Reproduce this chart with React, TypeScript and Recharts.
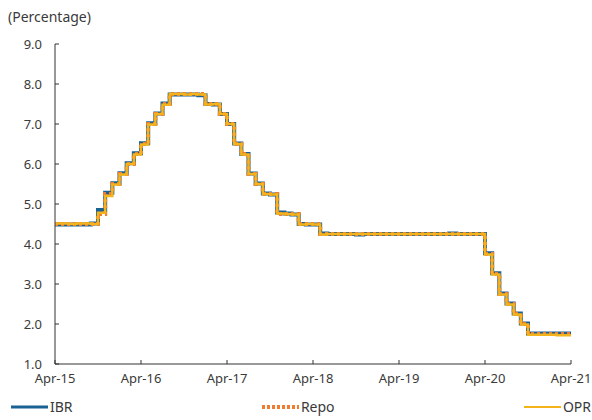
import { LineChart, Line, XAxis, YAxis } from "recharts";

const MONTH_NAMES = ["Jan", "Feb", "Mar", "Apr", "May", "Jun", "Jul", "Aug", "Sep", "Oct", "Nov", "Dec"];

// monthly, Apr-15 .. Apr-21
const months: string[] = [];
for (let i = 0; i < 73; i++) {
  const m = (3 + i) % 12;
  const y = 15 + Math.floor((3 + i) / 12);
  months.push(`${MONTH_NAMES[m]}-${y}`);
}

const xTicks = ["Apr-15", "Apr-16", "Apr-17", "Apr-18", "Apr-19", "Apr-20", "Apr-21"];
const yTicks = [1, 2, 3, 4, 5, 6, 7, 8, 9];

const repo = [
  4.5, 4.5, 4.5, 4.5, 4.5, 4.5, 4.75, 5.25, 5.5, 5.75, 6.0, 6.25, 6.5, 7.0, 7.25, 7.5,
  7.75, 7.75, 7.75, 7.75, 7.75, 7.5, 7.5, 7.25, 7.0, 6.5, 6.25, 5.75, 5.5, 5.25, 5.25,
  4.75, 4.75, 4.75, 4.5, 4.5, 4.5,
  4.25, 4.25, 4.25, 4.25, 4.25, 4.25, 4.25, 4.25, 4.25, 4.25, 4.25, 4.25, 4.25, 4.25,
  4.25, 4.25, 4.25, 4.25, 4.25, 4.25, 4.25, 4.25, 4.25,
  3.75, 3.25, 2.75, 2.5, 2.25, 2.0, 1.75, 1.75, 1.75, 1.75, 1.75, 1.75, 1.75,
];

const ibr = [
  4.49, 4.49, 4.49, 4.49, 4.49, 4.51, 4.85, 5.28, 5.52, 5.77, 6.02, 6.27, 6.52, 7.02, 7.26, 7.51,
  7.74, 7.74, 7.74, 7.74, 7.72, 7.5, 7.49, 7.25, 7.0, 6.51, 6.25, 5.76, 5.51, 5.26, 5.24,
  4.79, 4.76, 4.74, 4.5, 4.49, 4.49,
  4.26, 4.25, 4.25, 4.25, 4.25, 4.24, 4.25, 4.25, 4.25, 4.25, 4.25, 4.25, 4.25, 4.25,
  4.25, 4.25, 4.25, 4.25, 4.26, 4.25, 4.25, 4.25, 4.25,
  3.77, 3.27, 2.76, 2.51, 2.26, 2.01, 1.76, 1.76, 1.76, 1.76, 1.76, 1.76, 1.76,
];

const opr = [
  4.51, 4.51, 4.5, 4.51, 4.51, 4.5, 4.78, 5.2, 5.49, 5.74, 6.0, 6.24, 6.49, 6.99, 7.25, 7.48,
  7.75, 7.75, 7.74, 7.75, 7.74, 7.49, 7.5, 7.25, 7.0, 6.5, 6.24, 5.75, 5.5, 5.25, 5.24,
  4.76, 4.75, 4.74, 4.49, 4.5, 4.49,
  4.24, 4.25, 4.25, 4.25, 4.25, 4.25, 4.25, 4.25, 4.25, 4.25, 4.25, 4.25, 4.25, 4.25,
  4.25, 4.25, 4.25, 4.25, 4.25, 4.25, 4.25, 4.25, 4.25,
  3.74, 3.24, 2.74, 2.49, 2.24, 1.99, 1.73, 1.73, 1.73, 1.73, 1.72, 1.72, 1.72,
];

const data = months.map((m, i) => ({ m, ibr: ibr[i], repo: repo[i], opr: opr[i] }));

const BLUE = "#1b6294";
const ORANGE = "#ee7d31";
const YELLOW = "#f4b31a";
const TEXT = "#3a3a3a";
const FONT = "'Noto Sans', sans-serif";

const tickStyle = { fontSize: 13, fill: TEXT, fontFamily: FONT };

function LegendItem({ label, color, dashed, thick }: { label: string; color: string; dashed?: boolean; thick: number }) {
  return (
    <div style={{ display: "flex", alignItems: "center" }}>
      <svg width={37} height={8}>
        <line
          x1={0}
          y1={4}
          x2={37}
          y2={4}
          stroke={color}
          strokeWidth={thick}
          strokeDasharray={dashed ? "3 2" : undefined}
        />
      </svg>
      <span style={{ marginLeft: 2 }}>{label}</span>
    </div>
  );
}

export default function App() {
  return (
    <div
      style={{
        position: "absolute",
        left: 0,
        top: 0,
        width: 592,
        height: 420,
        background: "#fff",
        fontFamily: FONT,
        color: TEXT,
      }}
    >
      <div style={{ position: "absolute", left: 8, top: 7, fontSize: 14 }}>(Percentage)</div>
      <LineChart width={592} height={420} data={data} margin={{ top: 44, right: 21, bottom: 26, left: 0 }}>
        <XAxis
          dataKey="m"
          ticks={xTicks}
          interval={0}
          height={30}
          tick={tickStyle}
          tickSize={-4}
          tickMargin={14}
          axisLine={{ stroke: "#333" }}
          tickLine={{ stroke: "#333" }}
        />
        <YAxis
          type="number"
          domain={[1, 9]}
          ticks={yTicks}
          width={55}
          tick={tickStyle}
          tickFormatter={(v) => Number(v).toFixed(1)}
          tickSize={-4}
          tickMargin={17}
          axisLine={{ stroke: "#333" }}
          tickLine={{ stroke: "#333" }}
        />
        <Line type="stepAfter" dataKey="ibr" stroke={BLUE} strokeWidth={4} dot={false} isAnimationActive={false} />
        <Line
          type="stepAfter"
          dataKey="repo"
          stroke={ORANGE}
          strokeWidth={4}
          strokeDasharray="3 3"
          dot={false}
          isAnimationActive={false}
        />
        <Line type="stepAfter" dataKey="opr" stroke={YELLOW} strokeWidth={2.5} dot={false} isAnimationActive={false} />
      </LineChart>
      <div
        style={{
          position: "absolute",
          left: 11,
          width: 580,
          top: 397,
          display: "flex",
          justifyContent: "space-between",
          fontSize: 14,
        }}
      >
        <LegendItem label="IBR" color={BLUE} thick={3} />
        <LegendItem label="Repo" color={ORANGE} dashed thick={4} />
        <LegendItem label="OPR" color={YELLOW} thick={2} />
      </div>
    </div>
  );
}
